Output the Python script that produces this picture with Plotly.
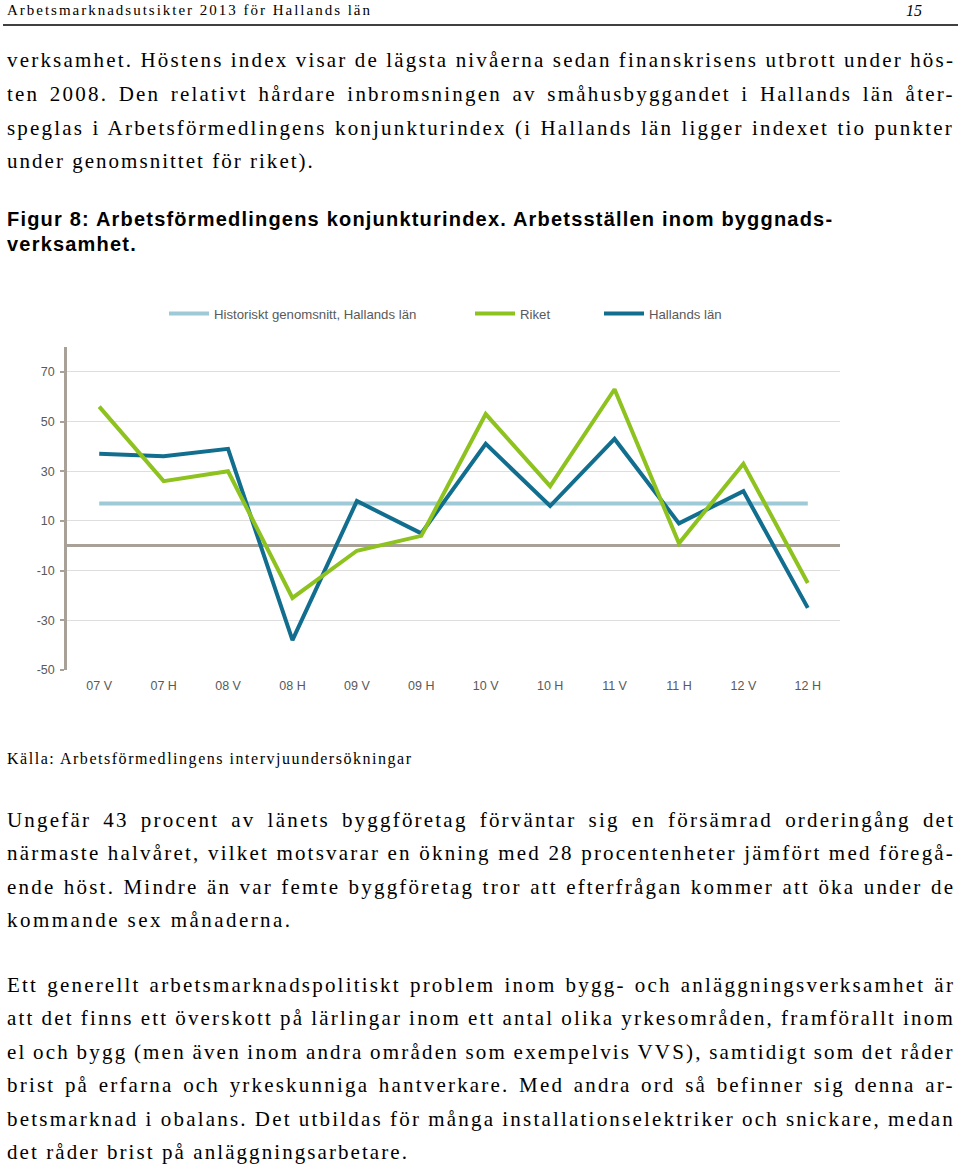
import plotly.graph_objects as go

# --- data -------------------------------------------------------------
categories = ['07 V', '07 H', '08 V', '08 H', '09 V', '09 H',
              '10 V', '10 H', '11 V', '11 H', '12 V', '12 H']
historiskt = [17] * 12
riket = [56, 26, 30, -21, -2, 4, 53, 24, 63, 1, 33, -15]
hallands = [37, 36, 39, -38, 18, 5, 41, 16, 43, 9, 22, -25]
y_ticks = [-50, -30, -10, 10, 30, 50, 70]
y_ticktext = ['-50', '-30', '-10', '10', '30', '50', '70']

header_text = 'Arbetsmarknadsutsikter 2013 för Hallands län'
page_number = '15'
para1 = [
    'verksamhet. Höstens index visar de lägsta nivåerna sedan finanskrisens utbrott under hös-',
    'ten 2008. Den relativt hårdare inbromsningen av småhusbyggandet i Hallands län åter-',
    'speglas i Arbetsförmedlingens konjunkturindex (i Hallands län ligger indexet tio punkter',
    'under genomsnittet för riket).',
]
caption = [
    'Figur 8: Arbetsförmedlingens konjunkturindex. Arbetsställen inom byggnads-',
    'verksamhet.',
]
source = 'Källa: Arbetsförmedlingens intervjuundersökningar'
para2 = [
    'Ungefär 43 procent av länets byggföretag förväntar sig en försämrad orderingång det',
    'närmaste halvåret, vilket motsvarar en ökning med 28 procentenheter jämfört med föregå-',
    'ende höst. Mindre än var femte byggföretag tror att efterfrågan kommer att öka under de',
    'kommande sex månaderna.',
]
para3 = [
    'Ett generellt arbetsmarknadspolitiskt problem inom bygg- och anläggningsverksamhet är',
    'att det finns ett överskott på lärlingar inom ett antal olika yrkesområden, framförallt inom',
    'el och bygg (men även inom andra områden som exempelvis VVS), samtidigt som det råder',
    'brist på erfarna och yrkeskunniga hantverkare. Med andra ord så befinner sig denna ar-',
    'betsmarknad i obalans. Det utbildas för många installationselektriker och snickare, medan',
    'det råder brist på anläggningsarbetare.',
]

colors = {
    'hist': '#9dcad6',
    'riket': '#8dc21f',
    'hallands': '#126e8e',
    'axis': '#a8a198',
    'grid': '#dedede',
    'label': '#595959',
}

W, H = 960, 1166

# Times / Liberation Serif advance widths (1/1000 em), used to justify lines
_tw = {}
for chars, w in [(' ,.', 250), ('!()-rI', 333), (':;ijlt', 278), ('0123456789', 500),
                 ('bdghnopquvxyköf', 500), ('aceåäz', 444), ('s', 389),
                 ('m', 778), ('w', 722), ('ADGHKNOQUVXYÄÖÅ', 722), ('BCR', 667),
                 ('ELTZ', 611), ('FPS', 556), ('M', 889), ('W', 944), ('J', 389)]:
    for c in chars:
        _tw[c] = w
_tw['f'] = 333


def text_width(s, fs):
    return sum(_tw.get(c, 500) for c in s) / 1000 * fs


def styled(s, fs, right=None, base_ls=2.2, left=7, full_right=953):
    nat = text_width(s, fs)
    n = len(s)
    if right is None:
        spaces = max(s.count(' '), 1)
        ws = (full_right - left - nat - base_ls * (n - 1)) / spaces
        style = f'letter-spacing:{base_ls:.2f}px;word-spacing:{ws:.2f}px'
    else:
        ls = (right - left - nat) / (n - 1)
        style = f'letter-spacing:{ls:.2f}px'
    return f'<span style="{style}">{s}</span>'


def px(x):
    return x / W


def py(y):
    return 1 - y / H


# --- chart ------------------------------------------------------------
fig = go.Figure()
fig.add_trace(go.Scatter(x=categories, y=historiskt, mode='lines',
                         name='Historiskt genomsnitt, Hallands län', legend='legend',
                         line=dict(color=colors['hist'], width=4)))
fig.add_trace(go.Scatter(x=categories, y=hallands, mode='lines',
                         name='Hallands län', legend='legend3',
                         line=dict(color=colors['hallands'], width=4)))
fig.add_trace(go.Scatter(x=categories, y=riket, mode='lines',
                         name='Riket', legend='legend2',
                         line=dict(color=colors['riket'], width=4)))

legend_style = dict(orientation='h', y=py(314), xanchor='left', yanchor='middle',
                    font=dict(size=13.2, color=colors['label']),
                    bgcolor='rgba(0,0,0,0)', itemwidth=40)

fig.update_layout(
    width=W, height=H,
    margin=dict(l=0, r=0, t=0, b=0),
    paper_bgcolor='white', plot_bgcolor='white',
    font=dict(family='Liberation Sans, Arial', size=12.5, color=colors['label']),
    showlegend=True,
    legend=dict(x=px(164), **legend_style),
    legend2=dict(x=px(470), **legend_style),
    legend3=dict(x=px(599), **legend_style),
    xaxis=dict(domain=[px(67), px(840)], range=[-0.5, 11.5], showgrid=False,
               showline=False, zeroline=False, ticks='', ticklabelstandoff=6,
               automargin=False, tickfont=dict(size=12.5, color=colors['label'])),
    yaxis=dict(domain=[py(670), py(347)], range=[-50, 80],
               tickvals=y_ticks, ticktext=y_ticktext, automargin=False,
               ticklabelstandoff=3,
               showgrid=True, gridcolor=colors['grid'], gridwidth=1,
               showline=True, linecolor=colors['axis'], linewidth=2.5,
               ticks='outside', ticklen=4, tickcolor=colors['axis'], tickwidth=2,
               zeroline=True, zerolinecolor=colors['axis'], zerolinewidth=3,
               tickfont=dict(size=12.5, color=colors['label'])),
)

# --- page text ----------------------------------------------------------
serif = 'Liberation Serif, Times New Roman, serif'
sans = 'Liberation Sans, Arial, sans-serif'
ann = []


def add_line(html, y, size, family=serif, x=5, color='black', anchor='left'):
    ann.append(dict(text=html, x=px(x), y=py(y), xref='paper', yref='paper',
                    xanchor=anchor, yanchor='middle', showarrow=False, align='left',
                    font=dict(family=family, size=size, color=color)))


add_line(styled(header_text, 15, right=370), 10, 15)
add_line(f'<i>{page_number}</i>', 10, 16, x=924, anchor='right')

body_fs = 21
paragraphs = [(para1, [60, 94, 128, 161], 313),
              (para2, [820, 853, 887, 920], 290),
              (para3, [985, 1018, 1052, 1085, 1119, 1152], 407)]
for lines, ys, last_right in paragraphs:
    for i, (s, y) in enumerate(zip(lines, ys)):
        right = last_right if i == len(lines) - 1 else None
        add_line(styled(s, body_fs, right=right), y, body_fs)

for s, y in zip(caption, [219, 244]):
    add_line(f'<b><span style="letter-spacing:1.2px">{s}</span></b>', y, 20, family=sans)

add_line(styled(source, 16, right=412), 759, 16)

fig.update_layout(annotations=ann)
fig.add_shape(type='line', xref='paper', yref='paper', x0=px(3), x1=px(958),
              y0=py(25), y1=py(25), line=dict(color='black', width=1.5))

# page body has a default 8px margin; remove it so the figure sits at 0,0
page_js = ("document.body.style.margin='0px';"
           "document.body.style.overflow='hidden';"
           "document.documentElement.style.overflow='hidden';")
fig.write_html('out.html', post_script=page_js, config={'displayModeBar': False})
